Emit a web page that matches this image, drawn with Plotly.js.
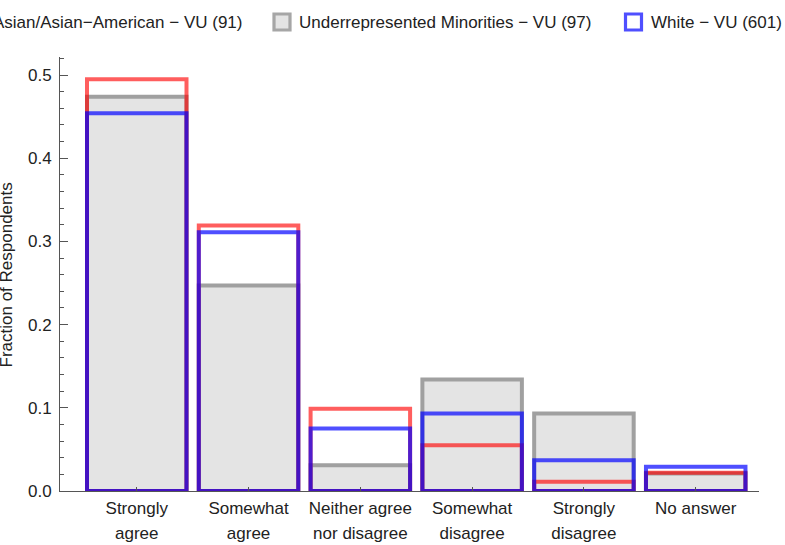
<!DOCTYPE html>
<html><head><meta charset="utf-8">
<script src="https://cdn.plot.ly/plotly-3.0.1.min.js"></script>
<style>html,body{margin:0;padding:0;background:#fff}#chart{width:785px;height:545px}</style>
</head><body><div id="chart"></div>
<script>
// ---- data ----
const categories = [1, 2, 3, 4, 5, 6];
const labelLine1 = ["Strongly", "Somewhat", "Neither agree", "Somewhat", "Strongly", "No answer"];
const labelLine2 = ["agree", "agree", "nor disagree", "disagree", "disagree", ""];
const seriesNames = ["Asian/Asian\u2212American \u2212 VU (91)", "Underrepresented Minorities \u2212 VU (97)", "White \u2212 VU (601)"];
const asian = [0.495, 0.319, 0.099, 0.055, 0.011, 0.022];
const urm   = [0.474, 0.247, 0.031, 0.134, 0.093, 0.021];
const white = [0.454, 0.311, 0.075, 0.093, 0.037, 0.029];
const yTicks = [0, 0.1, 0.2, 0.3, 0.4, 0.5];

// ---- layout helpers ----
const L = 60, T = 57, W = 699, H = 434, FW = 785, FH = 545;
const px = x => (x - L) / W;
const py = y => (T + H - y) / H;
const FONT = '"Liberation Sans", Arial, Helvetica, sans-serif';
const TXT = '#222222';

const redLine = 'rgba(255,0,0,0.63)';
const blueLine = 'rgba(0,0,255,0.69)';
const grayLine = '#a0a0a0';
const grayFill = '#e4e4e4';

const traces = [
  {type: 'bar', x: categories, y: urm, name: seriesNames[1], width: 0.89,
   marker: {color: grayFill, line: {color: grayLine, width: 4}}, cliponaxis: false, showlegend: false},
  {type: 'bar', x: categories, y: asian, name: seriesNames[0], width: 0.89,
   marker: {color: 'rgba(0,0,0,0)', line: {color: redLine, width: 4}}, cliponaxis: false, showlegend: false},
  {type: 'bar', x: categories, y: white, name: seriesNames[2], width: 0.89,
   marker: {color: 'rgba(0,0,0,0)', line: {color: blueLine, width: 4}}, cliponaxis: false, showlegend: false},
  {type: 'scatter', x: [], y: [], xaxis: 'x2', yaxis: 'y', showlegend: false, hoverinfo: 'skip'}
];

const xr = [0.3135, 6.566];
const legendY = 22;
const sw = 16; // swatch inner size
const swatches = [
  {x: -31, fill: 'rgba(255,255,255,1)', line: 'rgba(255,0,0,0.63)'},
  {x: 274, fill: grayFill, line: '#a6a6a6'},
  {x: 625.5, fill: 'rgba(255,255,255,1)', line: 'rgba(0,0,255,0.69)'}
];
const shapes = swatches.map(s => ({
  type: 'rect', xref: 'paper', yref: 'paper', layer: 'above',
  x0: px(s.x), x1: px(s.x + sw), y0: py(legendY - sw / 2), y1: py(legendY + sw / 2),
  fillcolor: s.fill, line: {color: s.line, width: 3.2}
}));

const annotations = [
  {text: seriesNames[0], xref: 'paper', yref: 'paper', x: px(244), y: py(legendY), xanchor: 'right', yanchor: 'middle', showarrow: false, font: {family: FONT, size: 17, color: TXT}},
  {text: seriesNames[1], xref: 'paper', yref: 'paper', x: px(296.5), y: py(legendY), xanchor: 'left', yanchor: 'middle', showarrow: false, font: {family: FONT, size: 17, color: TXT}},
  {text: seriesNames[2], xref: 'paper', yref: 'paper', x: px(648.5), y: py(legendY), xanchor: 'left', yanchor: 'middle', showarrow: false, font: {family: FONT, size: 17, color: TXT}},
  {text: 'Fraction of Respondents', xref: 'paper', yref: 'paper', x: px(5.5), y: py(275), xanchor: 'center', yanchor: 'middle', textangle: -90, showarrow: false, font: {family: FONT, size: 17, color: TXT}}
];

const layout = {
  width: FW, height: FH,
  margin: {l: L, r: FW - L - W, t: T, b: FH - T - H, autoexpand: false},
  paper_bgcolor: '#ffffff', plot_bgcolor: '#ffffff',
  barmode: 'overlay',
  showlegend: false,
  font: {family: FONT, size: 17, color: TXT},
  xaxis: {
    range: xr, tickmode: 'array', tickvals: categories, ticktext: labelLine1,
    showline: true, linecolor: '#555555', linewidth: 1, showgrid: false, zeroline: false,
    ticks: 'inside', ticklen: 4, tickcolor: '#555555', tickfont: {family: FONT, size: 17, color: TXT},
    ticklabelstandoff: 2
  },
  xaxis2: {
    range: xr, overlaying: 'x', anchor: 'y', side: 'bottom', tickmode: 'array', tickvals: categories, ticktext: labelLine2,
    showline: false, showgrid: false, zeroline: false, ticks: '', tickfont: {family: FONT, size: 17, color: TXT},
    ticklabelstandoff: 30
  },
  yaxis: {
    range: [0, H / 832], tickmode: 'array', tickvals: yTicks, tickformat: '.1f',
    showline: true, linecolor: '#555555', linewidth: 1, showgrid: false, zeroline: false,
    ticks: 'inside', ticklen: 8, tickcolor: '#555555', tickfont: {family: FONT, size: 17, color: TXT},
    ticklabelstandoff: 4,
    minor: {dtick: 0.02, tick0: 0, ticks: 'inside', ticklen: 4, tickcolor: '#555555', showgrid: false}
  },
  shapes: shapes,
  annotations: annotations
};

Plotly.newPlot('chart', traces, layout, {displayModeBar: false, staticPlot: true});
</script>
</body></html>
